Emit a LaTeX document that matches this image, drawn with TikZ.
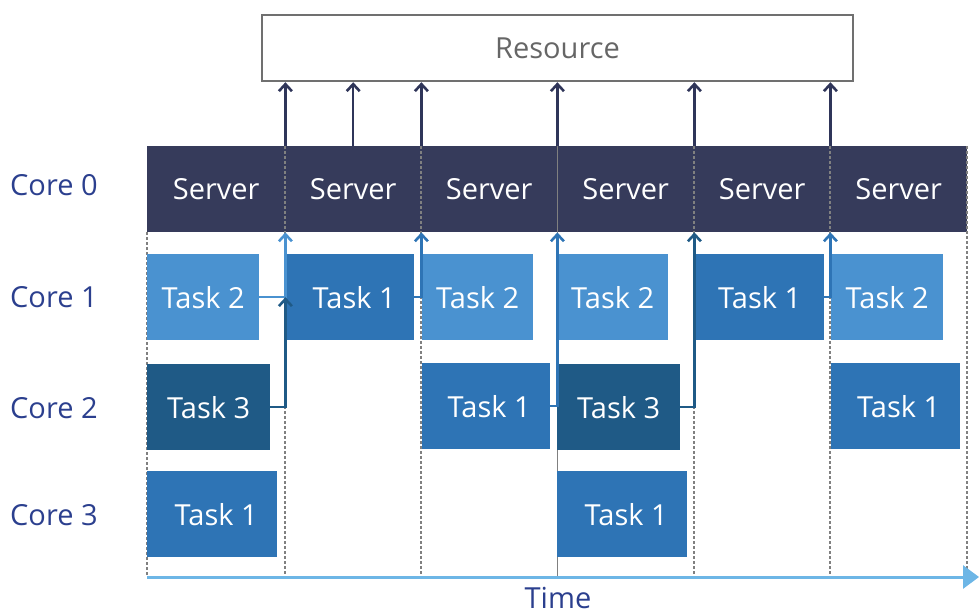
\documentclass[tikz,border=0pt]{standalone}
\usepackage{fontspec}
\setmainfont{Open Sans}
\usetikzlibrary{arrows.meta}

\definecolor{navy}{HTML}{363B5B}
\definecolor{navyline}{HTML}{2F3559}
\definecolor{lightblue}{HTML}{4A92D0}
\definecolor{midblue}{HTML}{2E74B5}
\definecolor{darkblue}{HTML}{1F5A86}
\definecolor{corelabel}{HTML}{2B3F8E}
\definecolor{boxgray}{HTML}{707070}
\definecolor{textgray}{HTML}{666666}
\definecolor{gridgray}{HTML}{808080}
\definecolor{axisblue}{HTML}{6DB6E6}

\newcommand\labelfont{\fontsize{29}{33}\selectfont}

\tikzset{
  block/.style={anchor=north west, inner sep=0pt, minimum height=86pt,
    text=white, font=\labelfont},
  server/.style={block, fill=navy},
  tasktwo/.style={block, fill=lightblue},
  taskone/.style={block, fill=midblue},
  taskthree/.style={block, fill=darkblue},
  corename/.style={anchor=west, inner sep=0pt, text=corelabel, font=\labelfont},
  grid/.style={gridgray, line width=2pt, dash pattern=on 2.5pt off 2.5pt},
  barb/.style={-{Straight Barb[length=7pt,width=13pt,line width=2.6pt]}},
  toresource/.style={navyline, line width=2.5pt, barb},
  conn/.style={line width=2.5pt, barb},
}

\begin{document}
\begin{tikzpicture}[x=1pt,y=-1pt]
\useasboundingbox (0,0) rectangle (979,615);

% shared resource
\node[draw=boxgray, line width=2.5pt, minimum width=591pt, minimum height=66pt,
      inner sep=0pt, text=textgray, font=\labelfont] (res) at (557.5,48) {Resource};

% server slices on core 0
\node[server, minimum width=138pt] (s1) at (147,146) {Server};
\node[server, minimum width=136pt] (s2) at (285,146) {Server};
\node[server, minimum width=136pt] (s3) at (421,146) {Server};
\node[server, minimum width=137pt] (s4) at (557,146) {Server};
\node[server, minimum width=136pt] (s5) at (694,146) {Server};
\node[server, minimum width=137pt] (s6) at (830,146) {Server};

% time axis
\coordinate (t0) at (147,577);
\coordinate (t1) at (979,577);

% time slot boundaries
\draw[grid] (s1.south west) -- (s1.south west |- t0);
\draw[grid] (s1.north east) -- (s1.north east |- t0);
\draw[grid] (s2.north east) -- (s2.north east |- t0);
\draw[gridgray, line width=1.5pt] (s3.north east) -- (s3.north east |- t0);
\draw[grid] (s4.north east) -- (s4.north east |- t0);
\draw[grid] (s5.north east) -- (s5.north east |- t0);
\draw[grid] (s6.north east) -- (s6.north east |- t0);

\draw[axisblue, line width=3pt, -{Triangle[length=16pt,width=23pt]}] (t0) -- (t1);

% core labels
\node[corename] (c0) at (10,185) {Core 0};
\node[corename] (c1) at (10,297) {Core 1};
\node[corename] (c2) at (10,408) {Core 2};
\node[corename] (c3) at (10,515) {Core 3};
\node[inner sep=0pt, text=corelabel, font=\labelfont] (time) at (558,598) {Time};

% core 1 tasks
\node[tasktwo,  minimum width=112pt] (ta1) at (147,254) {Task 2};
\node[taskone,  minimum width=128pt] (ta2) at (286,254) {\hspace{8pt}Task 1};
\node[tasktwo,  minimum width=111pt] (ta3) at (422,254) {Task 2};
\node[tasktwo,  minimum width=111pt] (ta4) at (557,254) {Task 2};
\node[taskone,  minimum width=129pt] (ta5) at (695,254) {Task 1};
\node[tasktwo,  minimum width=112pt] (ta6) at (831,254) {Task 2};

% core 2 tasks
\node[taskthree, minimum width=123pt] (tb1) at (147,364) {Task 3};
\node[taskone,   minimum width=128pt] (tb2) at (422,363) {\hspace{6pt}Task 1};
\node[taskthree, minimum width=123pt] (tb3) at (557,364) {Task 3};
\node[taskone,   minimum width=129pt] (tb4) at (831,363) {\hspace{6pt}Task 1};

% core 3 tasks
\node[taskone, minimum width=130pt] (tc1) at (147,471) {\hspace{8pt}Task 1};
\node[taskone, minimum width=130pt] (tc2) at (557,471) {\hspace{8pt}Task 1};

% requests from tasks to the server
\coordinate (j1) at (s1.south east |- ta1.east);
\draw[conn, lightblue] (ta1.east) -| (s1.south east);
\draw[conn, darkblue]  (tb1.east) -| (j1);
\draw[conn, midblue]   (ta2.east) -| (s2.south east);
\draw[conn, midblue]   (tb2.east) -| (s3.south east);
\draw[conn, darkblue]  (tb3.east) -| (s4.south east);
\draw[conn, midblue]   (ta5.east) -| (s5.south east);

% server accesses to the resource
\draw[toresource] (s1.north east) -- (s1.north east |- res.south);
\draw[toresource] (s2.north) -- (s2.north |- res.south);
\draw[toresource] (s2.north east) -- (s2.north east |- res.south);
\draw[toresource] (s3.north east) -- (s3.north east |- res.south);
\draw[toresource] (s4.north east) -- (s4.north east |- res.south);
\draw[toresource] (s5.north east) -- (s5.north east |- res.south);
\end{tikzpicture}
\end{document}
